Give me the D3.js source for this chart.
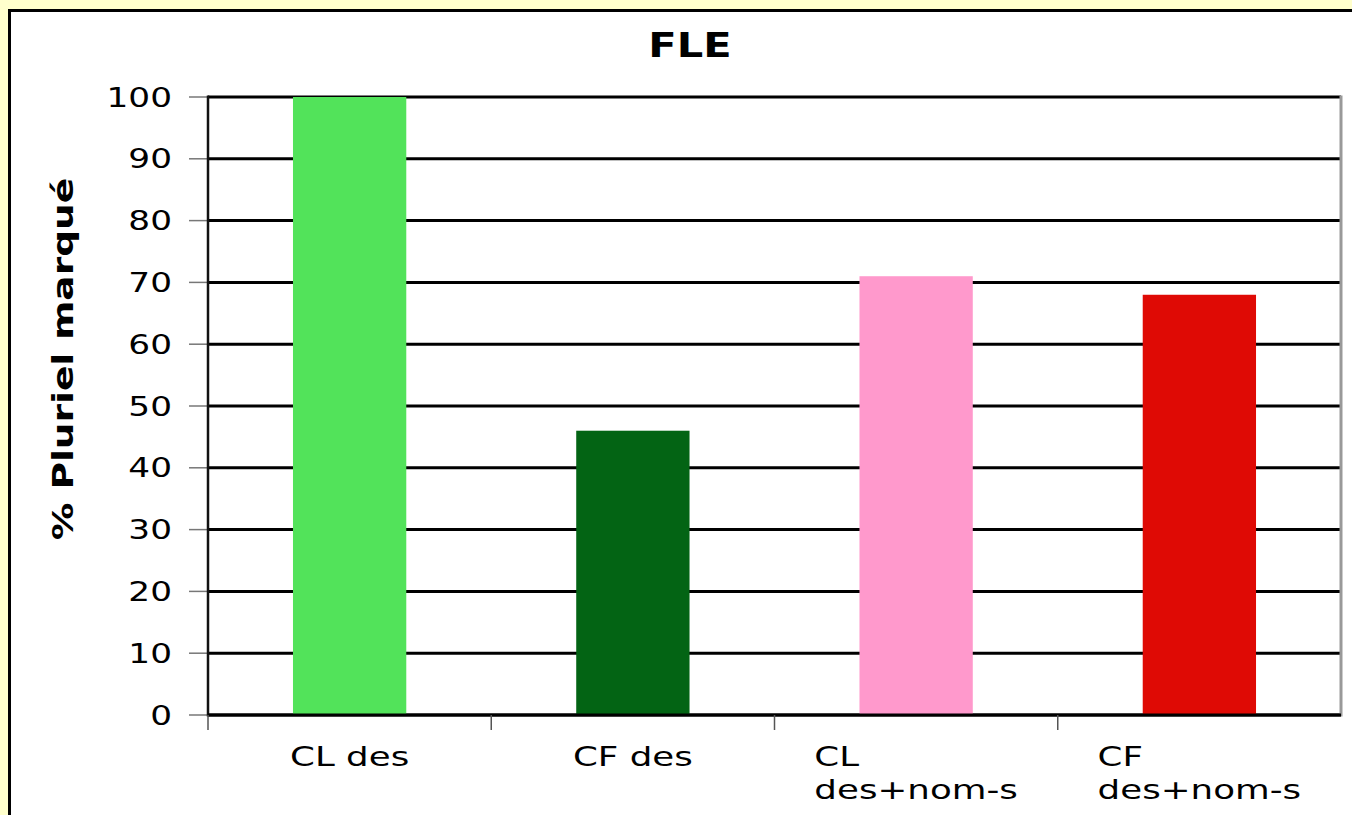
<!DOCTYPE html>
<html>
<head>
<meta charset="utf-8">
<script src="https://cdn.jsdelivr.net/npm/d3@7"></script>
<style>
  html, body { margin: 0; padding: 0; background: #ffffcc; overflow: hidden; }
  text { font-family: "DejaVu Sans", Verdana, sans-serif; fill: #000; }
</style>
</head>
<body>
<script>
// data
const categories = [['CL des'], ['CF des'], ['CL', 'des+nom-s'], ['CF', 'des+nom-s']]
const values = [100, 46, 71, 68]
const colors = ['#52e35a', '#036414', '#ff99cc', '#df0a05']
const yTicks = [0, 10, 20, 30, 40, 50, 60, 70, 80, 90, 100]

var width = 1352
var height = 815
var stretch = 1.32 // text looks wide in the reference

var svg = d3.select('body').append('svg')
    .attr('width', width)
    .attr('height', height)

// panel
svg.append('rect')
    .attr('x', 0).attr('y', 0)
    .attr('width', width).attr('height', height)
    .attr('fill', '#ffffcc')
svg.append('rect')
    .attr('x', 9.5).attr('y', 10.5)
    .attr('width', width + 20).attr('height', height + 20)
    .attr('fill', '#fff')
    .attr('stroke', '#000')
    .attr('stroke-width', 3)

var plot = {left: 208, right: 1341, top: 97, bottom: 715}

var x = d3.scaleBand()
    .domain(d3.range(categories.length))
    .range([plot.left, plot.right])
    .padding(0)

var y = d3.scaleLinear()
    .domain([0, 100])
    .range([plot.bottom, plot.top])

// gridlines
svg.append('g').selectAll('line.grid')
    .data(yTicks).enter()
    .append('line')
    .attr('class', 'grid')
    .attr('x1', plot.left).attr('x2', plot.right)
    .attr('y1', d => y(d)).attr('y2', d => y(d))
    .attr('stroke', '#000')
    .attr('stroke-width', 3)

// y tick marks
svg.append('g').selectAll('line.ytick')
    .data(yTicks).enter()
    .append('line')
    .attr('x1', 189).attr('x2', plot.left)
    .attr('y1', d => y(d)).attr('y2', d => y(d))
    .attr('stroke', '#777')
    .attr('stroke-width', 1.5)

// y tick labels
svg.append('g').selectAll('text.ylab')
    .data(yTicks).enter()
    .append('text')
    .attr('transform', d => 'translate(172,' + (y(d) + 9.5) + ') scale(' + stretch + ',1)')
    .attr('text-anchor', 'end')
    .style('font-size', '26px')
    .text(d => d)

// bars
svg.append('g').selectAll('rect.bar')
    .data(values).enter()
    .append('rect')
    .attr('x', (d, i) => x(i) + x.bandwidth() * 0.3)
    .attr('width', x.bandwidth() * 0.4)
    .attr('y', d => y(d))
    .attr('height', d => y(0) - y(d))
    .attr('fill', (d, i) => colors[i])

// right border of plot
svg.append('line')
    .attr('x1', plot.right).attr('x2', plot.right)
    .attr('y1', plot.top - 1.5).attr('y2', plot.bottom + 1.5)
    .attr('stroke', '#999')
    .attr('stroke-width', 3)

// axis lines
svg.append('line')
    .attr('x1', plot.left).attr('x2', plot.left)
    .attr('y1', plot.top - 1.5).attr('y2', plot.bottom + 1.5)
    .attr('stroke', '#111')
    .attr('stroke-width', 2.5)
svg.append('line')
    .attr('x1', plot.left).attr('x2', plot.right)
    .attr('y1', plot.bottom).attr('y2', plot.bottom)
    .attr('stroke', '#000')
    .attr('stroke-width', 3)

// x tick marks at band edges
svg.append('g').selectAll('line.xtick')
    .data(d3.range(categories.length)).enter()
    .append('line')
    .attr('x1', d => x(d)).attr('x2', d => x(d))
    .attr('y1', plot.bottom).attr('y2', 730)
    .attr('stroke', '#555')
    .attr('stroke-width', 1.5)

// x labels, lines left aligned inside a centred block
svg.append('g').selectAll('g.xlab')
    .data(categories).enter()
    .append('g')
    .each(function (lines, i) {
      var g = d3.select(this)
      var t = g.append('text')
          .style('font-size', '27px')
      lines.forEach((line, j) => {
        t.append('tspan').attr('x', 0).attr('y', j * 33).text(line)
      })
      var w = t.node().getBBox().width * stretch
      var cx = x(i) + x.bandwidth() / 2
      g.attr('transform', 'translate(' + (cx - w / 2) + ',766) scale(' + stretch + ',1)')
    })

// title
svg.append('text')
    .attr('transform', 'translate(690,57) scale(1.26,1)')
    .attr('text-anchor', 'middle')
    .style('font-size', '33px')
    .style('font-weight', 'bold')
    .text('FLE')

// y axis title
svg.append('text')
    .attr('transform', 'translate(73,359) rotate(-90) scale(1.34,1)')
    .attr('text-anchor', 'middle')
    .style('font-size', '28px')
    .style('font-weight', 'bold')
    .text('% Pluriel marqué')
</script>
</body>
</html>
